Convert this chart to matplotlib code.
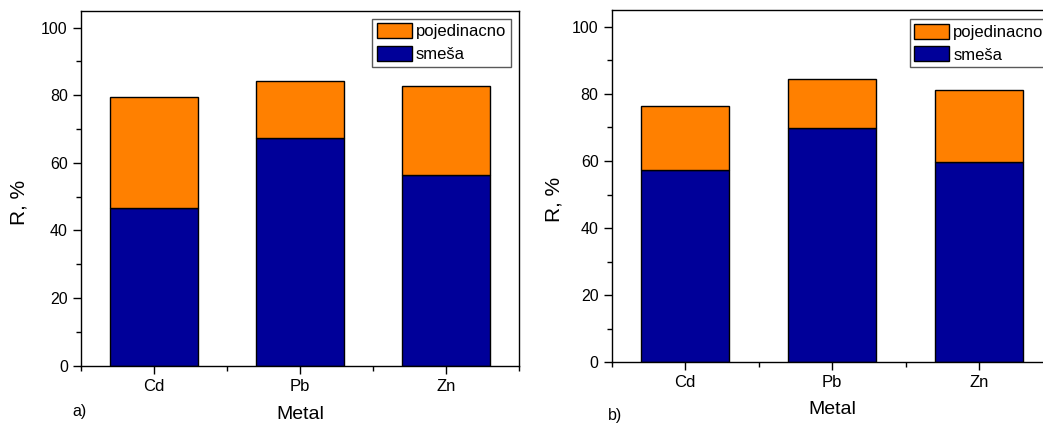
import matplotlib
matplotlib.use("Agg")
import matplotlib.pyplot as plt
from matplotlib.ticker import MultipleLocator, FixedLocator

plt.rcParams['font.family'] = ['Liberation Sans', 'DejaVu Sans']

metals = ['Cd', 'Pb', 'Zn']

# panel a)
smesa_a = [46.6, 67.3, 56.3]
total_a = [79.5, 84.3, 82.8]
# panel b)
smesa_b = [57.2, 69.9, 59.8]
total_b = [76.5, 84.3, 81.3]

orange = '#FF8000'
navy = '#000099'

fig = plt.figure(figsize=(10.43, 4.25), dpi=100)
ax1 = fig.add_axes([81 / 1043, 1 - 365.7 / 425, 438 / 1043, 355 / 425])
ax2 = fig.add_axes([611.7 / 1043, 1 - 362.3 / 425, 441 / 1043, 352.3 / 425])


def draw(ax, smesa, total, leg_anchor, leg_loc, ylab_xy, xlab_y):
    x = [1, 2, 3]
    top = [t - s for t, s in zip(total, smesa)]
    ax.bar(x, smesa, width=0.6, color=navy, edgecolor='black', linewidth=1.0,
           label='smeša')
    ax.bar(x, top, bottom=smesa, width=0.6, color=orange, edgecolor='black',
           linewidth=1.0, label='pojedinacno')
    ax.set_xlim(0.5, 3.5)
    ax.set_ylim(0, 105)
    ax.set_xticks(x)
    ax.set_xticklabels(metals, fontsize=12)
    ax.xaxis.set_minor_locator(FixedLocator([0.5, 1.5, 2.5, 3.5]))
    ax.yaxis.set_major_locator(MultipleLocator(20))
    ax.yaxis.set_minor_locator(MultipleLocator(10))
    ax.tick_params(axis='y', labelsize=11.5)
    ax.tick_params(which='major', direction='out', length=6, width=1.0)
    ax.tick_params(which='minor', direction='out', length=3.5, width=1.0)
    ax.tick_params(top=False, right=False)
    for sp in ax.spines.values():
        sp.set_linewidth(1.0)
    ax.set_ylabel('R, %', fontsize=15)
    ax.yaxis.set_label_coords(*ylab_xy)
    ax.set_xlabel('Metal', fontsize=14)
    ax.xaxis.set_label_coords(0.5, xlab_y)

    h, l = ax.get_legend_handles_labels()
    leg = ax.legend(h[::-1], l[::-1], loc=leg_loc, bbox_to_anchor=leg_anchor,
                    fontsize=12, frameon=True, fancybox=False, shadow=False,
                    handlelength=2.1, handleheight=1.0, handletextpad=0.22,
                    labelspacing=0.4, borderpad=0.28, borderaxespad=0.0)
    leg.get_frame().set_edgecolor('#303030')
    leg.get_frame().set_linewidth(1.0)


draw(ax1, smesa_a, total_a, (0.981, 0.978), 'upper right', (-0.121, 0.461), -0.114)
draw(ax2, smesa_b, total_b, (0.676, 0.9745), 'upper left', (-0.110, 0.4635), -0.111)

fig.text(72 / 1043, 1 - 416 / 425, 'a)', fontsize=11.5, va='baseline', ha='left')
fig.text(608 / 1043, 1 - 420 / 425, 'b)', fontsize=11.5, va='baseline', ha='left')

fig.savefig('out.png', dpi=100)
